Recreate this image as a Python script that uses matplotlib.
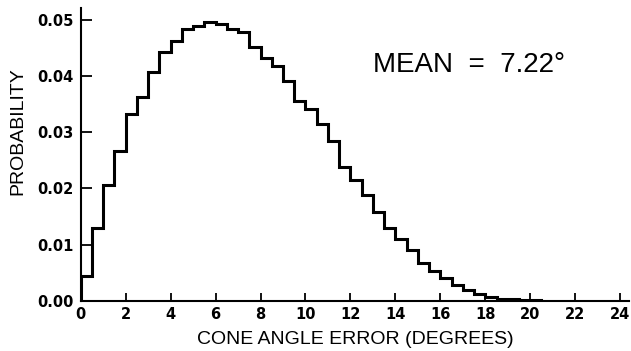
import numpy as np
import matplotlib
matplotlib.use("Agg")
import matplotlib.pyplot as plt

# probability per 0.5 degree bin, starting at 0 degrees
bin_width = 0.5
prob = [
    0.0044, 0.0130, 0.0206, 0.0267, 0.0332, 0.0363, 0.0407, 0.0443,
    0.0461, 0.0483, 0.0488, 0.0495, 0.0492, 0.0484, 0.0478, 0.0452,
    0.0431, 0.0418, 0.0391, 0.0356, 0.0341, 0.0315, 0.0285, 0.0238,
    0.0215, 0.0189, 0.0158, 0.0130, 0.0110, 0.0090, 0.0068, 0.0054,
    0.0041, 0.0028, 0.0019, 0.0012, 0.0007, 0.0004, 0.0003, 0.0002,
    0.0001,
]
mean_angle = 7.22

x_ticks = np.arange(0, 25, 2)
y_ticks = [0.00, 0.01, 0.02, 0.03, 0.04, 0.05]

edges = np.arange(len(prob) + 1) * bin_width

fig = plt.figure(figsize=(6.31, 3.51), dpi=100)
ax = fig.add_axes([0.128, 0.1425, 0.869, 0.834])

ax.stairs(prob, edges, baseline=0, color="black", linewidth=2.2)

ax.set_xlim(0, 24.4)
ax.set_ylim(0, 0.052)
ax.set_xticks(x_ticks)
ax.set_yticks(y_ticks)
ax.set_yticklabels([f"{v:.2f}" for v in y_ticks])

for side in ("top", "right"):
    ax.spines[side].set_visible(False)
for side in ("left", "bottom"):
    ax.spines[side].set_linewidth(1.5)

ax.tick_params(axis="x", direction="in", length=6, width=1.3, pad=4)
ax.tick_params(axis="y", direction="in", length=8, width=1.3, pad=5)
for lab in ax.get_xticklabels() + ax.get_yticklabels():
    lab.set_fontfamily("DejaVu Sans")
    lab.set_fontweight("bold")
    lab.set_fontsize(10.5)

ax.set_xlabel("CONE ANGLE ERROR (DEGREES)", fontfamily="Liberation Sans",
              fontsize=14, labelpad=7)
ax.set_ylabel("PROBABILITY", fontfamily="Liberation Sans", fontsize=14)
ax.yaxis.set_label_coords(-0.1, 0.58)

ax.text(13.0, 0.042, f"MEAN  =  {mean_angle:.2f}\u00b0",
        fontfamily="Liberation Sans", fontsize=20, ha="left", va="center")

fig.savefig("out.png", dpi=100, facecolor="white")
